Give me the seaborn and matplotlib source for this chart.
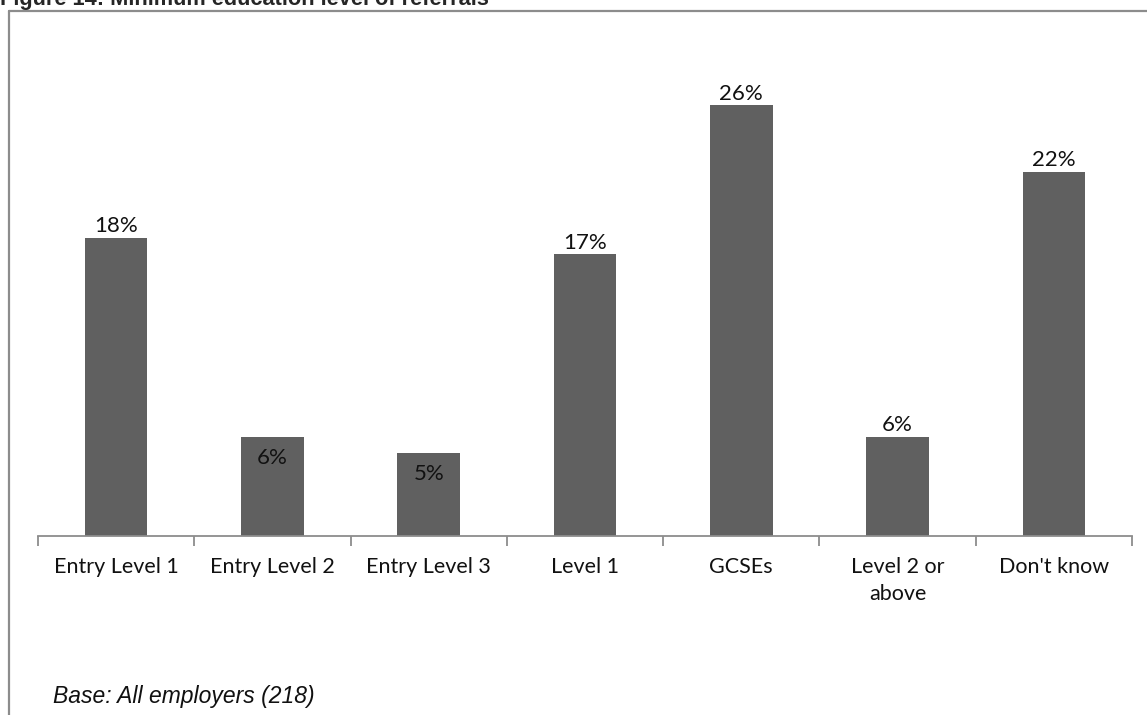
import matplotlib
matplotlib.use("Agg")
import matplotlib.pyplot as plt
import matplotlib.lines as mlines
import seaborn as sns

# Data
categories = ["Entry Level 1", "Entry Level 2", "Entry Level 3", "Level 1",
              "GCSEs", "Level 2 or\nabove", "Don't know"]
values = [18, 6, 5, 17, 26, 6, 22]
labels = ["18%", "6%", "5%", "17%", "26%", "6%", "22%"]
inside = [False, True, True, False, False, False, False]

sns.set_style("white")
plt.rcParams["font.family"] = ["Lato", "DejaVu Sans"]

W, H = 1147, 715
fig = plt.figure(figsize=(W / 100, H / 100), dpi=100)
ax = fig.add_axes([38 / W, 1 - 536 / H, (1132 - 38) / W, (536 - 39) / H])

sns.barplot(x=categories, y=values, color="#606060", saturation=1,
            width=0.4, ax=ax, edgecolor="none")

ax.set_ylim(0, 30)
ax.set_xlim(-0.5, len(categories) - 0.5)
ax.set_yticks([])
ax.set_xlabel("")
ax.set_ylabel("")
for s in ["top", "right", "left"]:
    ax.spines[s].set_visible(False)
ax.spines["bottom"].set_color("#8c8c8c")
ax.spines["bottom"].set_linewidth(1.3)

# category labels at centres, ticks at boundaries
ax.set_xticks(range(len(categories)))
ax.set_xticklabels(categories, fontsize=15.5, color="#111111", linespacing=1.45)
ax.tick_params(axis="x", which="major", length=0, pad=15)
ax.set_xticks([i - 0.5 for i in range(len(categories) + 1)], minor=True)
ax.tick_params(axis="x", which="minor", bottom=True, length=7, width=1.3,
               color="#8c8c8c")

for i, (v, lab, ins) in enumerate(zip(values, labels, inside)):
    if ins:
        ax.annotate(lab, (i, v), xytext=(0, -8), textcoords="offset points",
                    ha="center", va="top", fontsize=16, color="#111111")
    else:
        ax.annotate(lab, (i, v), xytext=(0, 1), textcoords="offset points",
                    ha="center", va="bottom", fontsize=16, color="#111111")

# frame around the figure (top and left only visible)
fig.add_artist(mlines.Line2D([9 / W, 1], [1 - 11 / H, 1 - 11 / H],
                             transform=fig.transFigure, color="#8c8c8c", lw=1.6))
fig.add_artist(mlines.Line2D([9 / W, 9 / W], [0, 1 - 11 / H],
                             transform=fig.transFigure, color="#8c8c8c", lw=1.6))

fig.text(0, 1 - 5 / H, "Figure 14: Minimum education level of referrals",
         fontsize=15.7, fontweight="bold", family=["Liberation Sans", "DejaVu Sans"],
         ha="left", va="baseline")
fig.text(53 / W, 1 - 697 / H, "Base: All employers (218)", fontsize=16.5,
         style="italic", family=["Liberation Sans", "DejaVu Sans"],
         ha="left", va="center", color="#111111")

fig.savefig("out.png", dpi=100)
